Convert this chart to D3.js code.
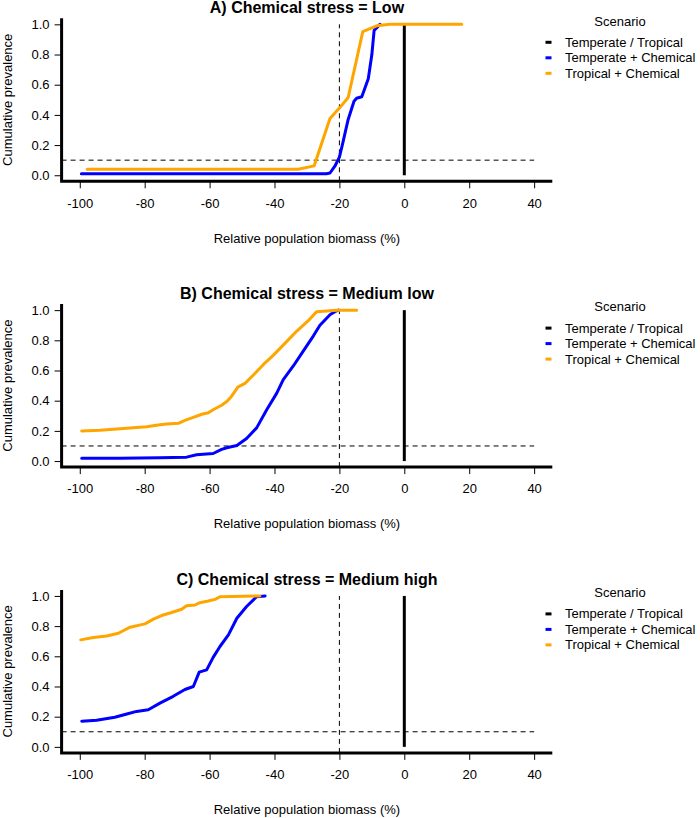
<!DOCTYPE html>
<html>
<head>
<meta charset="utf-8">
<script src="https://cdn.jsdelivr.net/npm/d3@7"></script>
<style>
  html, body { margin: 0; padding: 0; background: #fff; }
  svg { display: block; font-family: "Liberation Sans", Arial, Helvetica, sans-serif; }
</style>
</head>
<body>
<svg id="chart" width="700" height="818"></svg>
<script>
// ---- Data ----
const scenarios = ["Temperate / Tropical", "Temperate + Chemical", "Tropical + Chemical"];
const scenarioColors = ["#000000", "#0000FF", "#FFA500"];
const panelTitles = [
  "A) Chemical stress = Low",
  "B) Chemical stress = Medium low",
  "C) Chemical stress = Medium high"
];
const xTicks = [-100, -80, -60, -40, -20, 0, 20, 40];
const yTicks = [0, 0.2, 0.4, 0.6, 0.8, 1.0];
const xLabel = "Relative population biomass (%)";
const yLabel = "Cumulative prevalence";
const legendTitle = "Scenario";

// Reference scenario (Temperate / Tropical): vertical line at 0
const refLine = [[0, 0], [0, 1]];

// Panel A: Low
const lowTempChem = [[-99.5,0.01],[-24,0.01],[-22.9,0.015],[-21.4,0.06],[-20,0.12],[-19,0.21],[-17.3,0.37],[-15.5,0.49],[-14.7,0.51],[-13.1,0.52],[-11.1,0.64],[-10,0.80],[-9.3,0.96],[-7.5,1.0]];
const lowTropChem = [[-97.7,0.04],[-32.7,0.04],[-27.8,0.062],[-22.9,0.376],[-19.8,0.45],[-17.3,0.515],[-12.8,0.952],[-8.5,0.99],[-4.4,1.0],[17.7,1.0]];

// Panel B: Medium low
const medLowTempChem = [[-99.4,0.018],[-87.6,0.018],[-75.3,0.022],[-67.1,0.026],[-64,0.042],[-58.9,0.05],[-56.3,0.077],[-54.7,0.088],[-51.6,0.103],[-48.6,0.15],[-45.5,0.22],[-42.4,0.34],[-39.3,0.45],[-37.3,0.54],[-34.2,0.63],[-31.1,0.73],[-28,0.83],[-26,0.90],[-22.9,0.97],[-21.4,0.99],[-20.3,1.0]];
const medLowTropChem = [[-99.4,0.20],[-93.8,0.204],[-85.5,0.217],[-79.4,0.228],[-75.3,0.24],[-73.2,0.246],[-69.6,0.25],[-67.6,0.27],[-65,0.29],[-62.4,0.31],[-60.4,0.32],[-58.9,0.34],[-56.3,0.37],[-54.7,0.394],[-53.2,0.43],[-51.3,0.49],[-49.1,0.515],[-46.5,0.57],[-43.4,0.64],[-40.4,0.70],[-36.8,0.78],[-33.2,0.86],[-29.6,0.93],[-27,0.99],[-20.8,1.0],[-14.7,1.0]];

// Panel C: Medium high
const medHighTempChem = [[-99.4,0.17],[-94.8,0.176],[-89.2,0.196],[-85.5,0.218],[-82.5,0.235],[-78.9,0.246],[-75.3,0.29],[-71.2,0.335],[-67.6,0.38],[-65,0.40],[-63.2,0.495],[-60.9,0.51],[-58.9,0.593],[-56.8,0.665],[-54.2,0.742],[-51.6,0.852],[-48.6,0.93],[-45.5,0.995],[-42.9,1.0]];
const medHighTropChem = [[-99.7,0.709],[-95.8,0.724],[-91.7,0.735],[-88.1,0.753],[-84.5,0.793],[-79.9,0.815],[-77.3,0.846],[-74.8,0.87],[-71.7,0.89],[-68.6,0.912],[-67.1,0.935],[-64.5,0.94],[-63,0.955],[-60.4,0.966],[-58.3,0.977],[-56.8,0.995],[-44.5,1.0]];

const panelSeries = [
  [refLine, lowTempChem, lowTropChem],
  [refLine, medLowTempChem, medLowTropChem],
  [refLine, medHighTempChem, medHighTropChem]
];
const thresholdY = 0.1;
const thresholdX = -20;

// ---- Layout ----
const svg = d3.select("#chart");
const panelOffsets = [0, 285.8, 571.6];
const xDomain = [-105.6, 45.6];
const yDomain = [-0.04, 1.04];
const x = d3.scaleLinear().domain(xDomain).range([61.6, 552.3]);
const y = d3.scaleLinear().domain(yDomain).range([181.3, 18.3]);
const line = d3.line().x(d => x(d[0])).y(d => y(d[1]));

panelOffsets.forEach((off, pi) => {
  const g = svg.append("g").attr("transform", `translate(0,${off})`);

  // Title
  g.append("text")
    .attr("x", (x.range()[0] + x.range()[1]) / 2)
    .attr("y", 7.5)
    .attr("dominant-baseline", "central")
    .attr("text-anchor", "middle")
    .attr("font-weight", "bold")
    .attr("font-size", 16)
    .text(panelTitles[pi]);

  // Axes via d3
  const xAxis = d3.axisBottom(x).tickValues(xTicks).tickSize(7).tickPadding(10).tickFormat(d3.format("d"));
  const yAxis = d3.axisLeft(y).tickValues(yTicks).tickSize(7).tickPadding(5).tickFormat(d3.format(".1f"));

  const gx = g.append("g").attr("transform", `translate(0,${y.range()[0]})`).call(xAxis);
  const gy = g.append("g").attr("transform", `translate(${x.range()[0]},0)`).call(yAxis);
  [gx, gy].forEach(ax => {
    ax.select(".domain").remove();
    ax.selectAll(".tick line").attr("stroke", "#000").attr("stroke-width", 1);
    ax.selectAll(".tick text").attr("font-size", 13).attr("fill", "#000")
      .attr("font-family", "Liberation Sans, Arial, Helvetica, sans-serif");
  });
  gx.selectAll(".tick text").text(d => d < 0 ? "-" + Math.abs(d) : d);

  // L-shaped box
  g.append("path")
    .attr("d", `M${x.range()[0]},${y.range()[1]} L${x.range()[0]},${y.range()[0]} L${x.range()[1]},${y.range()[0]}`)
    .attr("fill", "none").attr("stroke", "#000").attr("stroke-width", 3)
    .attr("stroke-linecap", "butt");

  // Axis labels
  g.append("text")
    .attr("x", (x.range()[0] + x.range()[1]) / 2)
    .attr("y", 238)
    .attr("dominant-baseline", "central")
    .attr("text-anchor", "middle")
    .attr("font-size", 13)
    .text(xLabel);
  g.append("text")
    .attr("transform", `translate(7,${(y.range()[0] + y.range()[1]) / 2}) rotate(-90)`)
    .attr("dominant-baseline", "central")
    .attr("text-anchor", "middle")
    .attr("font-size", 13)
    .text(yLabel);

  // Dashed reference lines
  g.append("line")
    .attr("x1", x(xDomain[0])).attr("x2", x(40))
    .attr("y1", y(thresholdY)).attr("y2", y(thresholdY))
    .attr("stroke", "#000").attr("stroke-width", 1).attr("stroke-dasharray", "5,4");
  g.append("line")
    .attr("x1", x(thresholdX)).attr("x2", x(thresholdX))
    .attr("y1", y(yDomain[0])).attr("y2", y(1))
    .attr("stroke", "#000").attr("stroke-width", 1).attr("stroke-dasharray", "5,4");

  // Series
  panelSeries[pi].forEach((data, si) => {
    g.append("path")
      .datum(data)
      .attr("d", line)
      .attr("fill", "none")
      .attr("stroke", scenarioColors[si])
      .attr("stroke-width", 3)
      .attr("stroke-linejoin", "round")
      .attr("stroke-linecap", si === 0 ? "butt" : "round");
  });

  // Legend
  const lg = g.append("g");
  lg.append("text")
    .attr("x", 620).attr("y", 21)
    .attr("dominant-baseline", "central")
    .attr("text-anchor", "middle")
    .attr("font-size", 13)
    .text(legendTitle);
  scenarios.forEach((s, i) => {
    const yy = 42.3 + i * 15.5;
    lg.append("line")
      .attr("x1", 545.5).attr("x2", 551.5)
      .attr("y1", yy).attr("y2", yy)
      .attr("stroke", scenarioColors[i]).attr("stroke-width", 3);
    lg.append("text")
      .attr("x", 565).attr("y", yy)
      .attr("dominant-baseline", "central")
      .attr("font-size", 13)
      .text(s);
  });
});
</script>
</body>
</html>
